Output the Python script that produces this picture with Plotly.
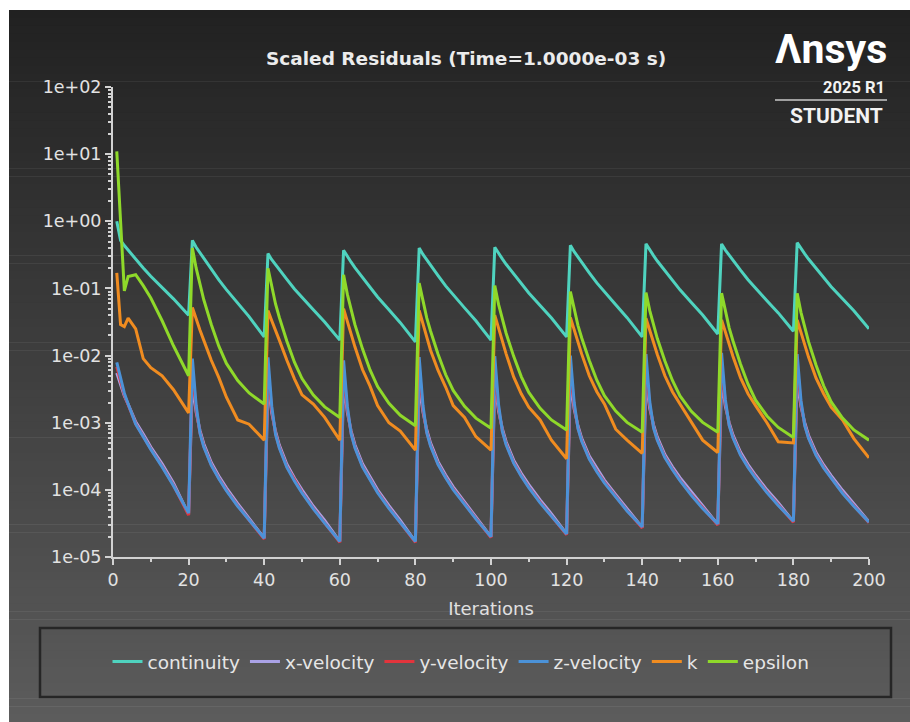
import plotly.graph_objects as go

# Iteration numbers at which residuals are plotted (10 time steps x 20 iterations)
ITERATIONS = [
    1, 2, 3, 4, 6, 8, 10, 13, 16, 20,
    21, 22, 23, 24, 26, 28, 30, 33, 36, 40,
    41, 42, 43, 44, 46, 48, 50, 53, 56, 60,
    61, 62, 63, 64, 66, 68, 70, 73, 76, 80,
    81, 82, 83, 84, 86, 88, 90, 93, 96, 100,
    101, 102, 103, 104, 106, 108, 110, 113, 116, 120,
    121, 122, 123, 124, 126, 128, 130, 133, 136, 140,
    141, 142, 143, 144, 146, 148, 150, 153, 156, 160,
    161, 162, 163, 164, 166, 168, 170, 173, 176, 180,
    181, 182, 183, 184, 186, 188, 190, 193, 196, 200,
]

CONTINUITY = [
    1.0, 0.52, 0.435, 0.372, 0.274, 0.201, 0.152, 0.103, 0.070, 0.040,
    0.52, 0.41, 0.34, 0.277, 0.193, 0.134, 0.096, 0.0605, 0.038, 0.019,
    0.33, 0.268, 0.224, 0.188, 0.136, 0.098, 0.073, 0.048, 0.0317, 0.017,
    0.37, 0.297, 0.246, 0.204, 0.144, 0.102, 0.0745, 0.048, 0.0309, 0.016,
    0.40, 0.321, 0.265, 0.219, 0.155, 0.109, 0.080, 0.0513, 0.033, 0.017,
    0.41, 0.331, 0.275, 0.229, 0.163, 0.116, 0.0857, 0.0557, 0.0362, 0.019,
    0.44, 0.353, 0.292, 0.242, 0.171, 0.121, 0.0885, 0.057, 0.0367, 0.019,
    0.46, 0.371, 0.308, 0.256, 0.182, 0.130, 0.0953, 0.0618, 0.0402, 0.021,
    0.46, 0.373, 0.312, 0.261, 0.187, 0.135, 0.0998, 0.0656, 0.0432, 0.023,
    0.48, 0.390, 0.327, 0.274, 0.198, 0.143, 0.106, 0.0703, 0.0465, 0.025,
]

X_VELOCITY = [
    5.5e-3, 3.6e-3, 2.5e-3, 1.9e-3, 1.03e-3, 6.8e-4, 4.35e-4, 2.45e-4, 1.27e-4, 4.3e-5,
    4.0e-3, 1.43e-3, 7.7e-4, 4.9e-4, 2.55e-4, 1.61e-4, 1.07e-4, 6.25e-5, 3.8e-5, 1.9e-5,
    4.0e-3, 1.40e-3, 7.4e-4, 4.65e-4, 2.4e-4, 1.5e-4, 1.0e-4, 5.7e-5, 3.5e-5, 1.7e-5,
    4.1e-3, 1.42e-3, 7.5e-4, 4.7e-4, 2.44e-4, 1.53e-4, 1.0e-4, 5.8e-5, 3.5e-5, 1.7e-5,
    4.0e-3, 1.45e-3, 7.85e-4, 5.0e-4, 2.63e-4, 1.66e-4, 1.11e-4, 6.6e-5, 4.0e-5, 2.0e-5,
    4.0e-3, 1.48e-3, 8.15e-4, 5.2e-4, 2.77e-4, 1.77e-4, 1.2e-4, 7.1e-5, 4.4e-5, 2.2e-5,
    4.2e-3, 1.6e-3, 9.0e-4, 5.85e-4, 3.18e-4, 2.06e-4, 1.4e-4, 8.5e-5, 5.3e-5, 2.75e-5,
    4.2e-3, 1.63e-3, 9.3e-4, 6.1e-4, 3.35e-4, 2.2e-4, 1.52e-4, 9.2e-5, 5.8e-5, 3.05e-5,
    4.5e-3, 1.76e-3, 1.0e-3, 6.6e-4, 3.65e-4, 2.38e-4, 1.65e-4, 1.0e-4, 6.45e-5, 3.35e-5,
    4.5e-3, 1.75e-3, 1.0e-3, 6.5e-4, 3.6e-4, 2.35e-4, 1.63e-4, 9.85e-5, 6.25e-5, 3.35e-5,
]

Y_VELOCITY = [
    6.8e-3, 4.0e-3, 2.6e-3, 1.85e-3, 9.6e-4, 6.3e-4, 4.05e-4, 2.25e-4, 1.17e-4, 4.2e-5,
    6.5e-3, 1.6e-3, 7.1e-4, 4.5e-4, 2.36e-4, 1.49e-4, 9.9e-5, 5.8e-5, 3.55e-5, 1.85e-5,
    6.6e-3, 1.55e-3, 6.85e-4, 4.3e-4, 2.2e-4, 1.39e-4, 9.2e-5, 5.3e-5, 3.25e-5, 1.65e-5,
    6.3e-3, 1.6e-3, 6.95e-4, 4.35e-4, 2.25e-4, 1.41e-4, 9.3e-5, 5.4e-5, 3.25e-5, 1.65e-5,
    6.6e-3, 1.6e-3, 7.25e-4, 4.6e-4, 2.43e-4, 1.54e-4, 1.03e-4, 6.1e-5, 3.75e-5, 1.95e-5,
    6.8e-3, 1.65e-3, 7.55e-4, 4.8e-4, 2.55e-4, 1.63e-4, 1.1e-4, 6.55e-5, 4.1e-5, 2.15e-5,
    7.0e-3, 1.8e-3, 8.35e-4, 5.4e-4, 2.94e-4, 1.9e-4, 1.3e-4, 7.85e-5, 4.9e-5, 2.7e-5,
    7.2e-3, 1.85e-3, 8.6e-4, 5.6e-4, 3.1e-4, 2.03e-4, 1.4e-4, 8.5e-5, 5.4e-5, 3.0e-5,
    7.5e-3, 2.0e-3, 9.3e-4, 6.1e-4, 3.37e-4, 2.2e-4, 1.53e-4, 9.3e-5, 6.0e-5, 3.3e-5,
    7.3e-3, 1.95e-3, 9.2e-4, 6.0e-4, 3.33e-4, 2.18e-4, 1.51e-4, 9.1e-5, 5.8e-5, 3.25e-5,
]

Z_VELOCITY = [
    7.9e-3, 4.4e-3, 2.75e-3, 1.9e-3, 9.5e-4, 6.2e-4, 4.0e-4, 2.2e-4, 1.15e-4, 4.5e-5,
    9.0e-3, 1.8e-3, 7.0e-4, 4.4e-4, 2.32e-4, 1.46e-4, 9.7e-5, 5.7e-5, 3.5e-5, 1.9e-5,
    9.4e-3, 1.75e-3, 6.7e-4, 4.2e-4, 2.17e-4, 1.36e-4, 9.0e-5, 5.2e-5, 3.2e-5, 1.7e-5,
    8.5e-3, 1.75e-3, 6.8e-4, 4.25e-4, 2.2e-4, 1.38e-4, 9.1e-5, 5.3e-5, 3.2e-5, 1.7e-5,
    9.5e-3, 1.8e-3, 7.1e-4, 4.5e-4, 2.38e-4, 1.51e-4, 1.01e-4, 6.0e-5, 3.7e-5, 2.0e-5,
    9.8e-3, 1.85e-3, 7.4e-4, 4.7e-4, 2.5e-4, 1.6e-4, 1.08e-4, 6.4e-5, 4.0e-5, 2.2e-5,
    1.0e-2, 2.0e-3, 8.2e-4, 5.3e-4, 2.88e-4, 1.86e-4, 1.27e-4, 7.7e-5, 4.85e-5, 2.8e-5,
    1.05e-2, 2.05e-3, 8.4e-4, 5.5e-4, 3.03e-4, 1.99e-4, 1.37e-4, 8.3e-5, 5.3e-5, 3.1e-5,
    1.1e-2, 2.2e-3, 9.1e-4, 5.95e-4, 3.3e-4, 2.16e-4, 1.5e-4, 9.1e-5, 5.85e-5, 3.4e-5,
    1.05e-2, 2.15e-3, 9.0e-4, 5.85e-4, 3.26e-4, 2.13e-4, 1.48e-4, 8.9e-5, 5.7e-5, 3.3e-5,
]

K = [
    0.17, 0.029, 0.027, 0.036, 0.025, 0.0090, 0.0066, 0.0050, 0.0031, 0.0014,
    0.052, 0.034, 0.024, 0.017, 0.0085, 0.0047, 0.0024, 0.0011, 0.00095, 0.00055,
    0.047, 0.033, 0.024, 0.017, 0.0085, 0.0045, 0.0026, 0.0019, 0.0012, 0.00055,
    0.050, 0.0323, 0.0209, 0.0135, 0.0062, 0.0035, 0.0018, 0.0010, 0.00075, 0.00039,
    0.047, 0.030, 0.019, 0.012, 0.0060, 0.0034, 0.0018, 0.0012, 0.00062, 0.00039,
    0.040, 0.0256, 0.0165, 0.0106, 0.0048, 0.0027, 0.0017, 0.0011, 0.00055, 0.00029,
    0.037, 0.0243, 0.0160, 0.0105, 0.0050, 0.0029, 0.0019, 0.0008, 0.00055, 0.00035,
    0.036, 0.0238, 0.0157, 0.0104, 0.0050, 0.0029, 0.0019, 0.0010, 0.00055, 0.00036,
    0.034, 0.0225, 0.0148, 0.0098, 0.0047, 0.0027, 0.0018, 0.0010, 0.00052, 0.00050,
    0.034, 0.022, 0.0145, 0.0095, 0.0046, 0.0027, 0.0017, 0.0011, 0.00058, 0.00030,
]

EPSILON = [
    11.0, 1.0, 0.092, 0.15, 0.16, 0.11, 0.072, 0.033, 0.014, 0.005,
    0.40, 0.200, 0.111, 0.0684, 0.0291, 0.0138, 0.00764, 0.00424, 0.00277, 0.0019,
    0.20, 0.103, 0.0586, 0.0370, 0.0163, 0.00796, 0.00454, 0.00258, 0.00172, 0.0012,
    0.16, 0.0815, 0.0461, 0.0289, 0.0126, 0.00611, 0.00346, 0.00195, 0.00129, 0.0009,
    0.12, 0.0628, 0.0364, 0.0232, 0.0105, 0.00522, 0.00303, 0.00175, 0.00117, 0.00083,
    0.11, 0.0578, 0.0335, 0.0215, 0.00973, 0.00486, 0.00282, 0.00164, 0.00110, 0.00078,
    0.090, 0.0480, 0.0282, 0.0183, 0.00843, 0.00430, 0.00252, 0.00149, 0.00101, 0.00072,
    0.087, 0.0467, 0.0275, 0.0179, 0.00830, 0.00425, 0.00251, 0.00148, 0.00101, 0.00072,
    0.085, 0.0446, 0.0259, 0.0166, 0.00750, 0.00375, 0.00217, 0.00126, 0.00085, 0.00060,
    0.085, 0.0441, 0.0254, 0.0161, 0.00718, 0.00355, 0.00204, 0.00117, 0.00078, 0.00055,
]

SERIES = [
    ("continuity", CONTINUITY, "#4fd3bf"),
    ("x-velocity", X_VELOCITY, "#aaa2e6"),
    ("y-velocity", Y_VELOCITY, "#e3343c"),
    ("z-velocity", Z_VELOCITY, "#4b92d8"),
    ("k", K, "#f08c20"),
    ("epsilon", EPSILON, "#8fd92a"),
]

Y_TICK_VALUES = [1e-5, 1e-4, 1e-3, 1e-2, 1e-1, 1e0, 1e1, 1e2]
Y_TICK_LABELS = ["1e-05", "1e-04", "1e-03", "1e-02", "1e-01", "1e+00", "1e+01", "1e+02"]
X_TICK_VALUES = [0, 20, 40, 60, 80, 100, 120, 140, 160, 180, 200]

W, H = 910, 722
L, R, T, B = 113, 41, 87, 165
PW, PH = W - L - R, H - T - B


def px(x):
    return (x - L) / PW


def py(y):
    return (H - B - y) / PH


fig = go.Figure()
for name, values, color in SERIES:
    fig.add_trace(go.Scatter(
        x=ITERATIONS, y=values, name=name, mode="lines",
        line=dict(color=color, width=3),
    ))

# Dark-to-grey vertical gradient panel behind everything
shapes = []
top, bottom, left = 10, H, 9
n_bands = 90
band_h = (bottom - top) / n_bands
for i in range(n_bands):
    frac = (i + 0.5) / n_bands
    g = int(round(33 + (92 - 33) * frac))
    y0 = top + i * band_h
    shapes.append(dict(
        type="rect", xref="paper", yref="paper", layer="below",
        x0=px(left), x1=px(W + 2), y0=py(y0 + band_h + 0.6), y1=py(y0),
        fillcolor=f"rgb({g},{g},{g})", line=dict(width=0),
    ))

# Legend frame
shapes.append(dict(
    type="rect", xref="paper", yref="paper", layer="below",
    x0=px(40), x1=px(891), y0=py(697), y1=py(628),
    fillcolor="rgba(0,0,0,0)", line=dict(color="#262626", width=2.5),
))
# Rule between release and edition in the logo block
shapes.append(dict(
    type="line", xref="paper", yref="paper",
    x0=px(775), x1=px(887), y0=py(100), y1=py(100),
    line=dict(color="#c8c8c8", width=1.6),
))

annotations = [
    dict(text="<b>Scaled Residuals (Time=1.0000e-03 s)</b>", x=px(466), y=py(58),
         xref="paper", yref="paper", showarrow=False, xanchor="center", yanchor="middle",
         font=dict(family="DejaVu Sans", size=18.5, color="#ececec")),
    dict(text="<b>Λnsys</b>", x=px(889), y=py(49), xref="paper", yref="paper",
         showarrow=False, xanchor="right", yanchor="middle",
         font=dict(family="Roboto", size=41, color="#ffffff")),
    dict(text="<b>2025 R1</b>", x=px(887), y=py(87), xref="paper", yref="paper",
         showarrow=False, xanchor="right", yanchor="middle",
         font=dict(family="Roboto", size=16.5, color="#f2f2f2")),
    dict(text="<b>STUDENT</b>", x=px(885), y=py(116), xref="paper", yref="paper",
         showarrow=False, xanchor="right", yanchor="middle",
         font=dict(family="Roboto", size=21, color="#f2f2f2")),
]

axis_color = "#d2d2d2"
tick_font = dict(family="DejaVu Sans", size=17.5, color="#e2e2e2")

fig.update_layout(
    width=W, height=H,
    margin=dict(l=L, r=R, t=T, b=B, pad=0),
    paper_bgcolor="#ffffff",
    plot_bgcolor="rgba(0,0,0,0)",
    shapes=shapes,
    annotations=annotations,
    showlegend=True,
    legend=dict(
        orientation="h", x=px(461), y=py(662), xanchor="center", yanchor="middle",
        bgcolor="rgba(0,0,0,0)", borderwidth=0,
        font=dict(family="DejaVu Sans", size=18.5, color="#e6e6e6"),
        itemwidth=30, tracegroupgap=0,
    ),
    xaxis=dict(
        range=[0, 200], tickmode="array", tickvals=X_TICK_VALUES,
        ticks="outside", ticklen=6, tickwidth=2, tickcolor=axis_color,
        showline=True, linecolor=axis_color, linewidth=2,
        showgrid=False, zeroline=False, tickfont=tick_font,
        minor=dict(ticks="outside", dtick=10, ticklen=3, tickwidth=2, tickcolor=axis_color),
        title=dict(text="Iterations", standoff=13,
                   font=dict(family="DejaVu Sans", size=18, color="#e0e0e0")),
    ),
    yaxis=dict(
        type="log", range=[-5, 2], tickmode="array",
        tickvals=Y_TICK_VALUES, ticktext=Y_TICK_LABELS,
        ticks="outside", ticklen=6, tickwidth=2, tickcolor=axis_color,
        showline=True, linecolor=axis_color, linewidth=2,
        showgrid=False, zeroline=False, tickfont=tick_font,
        minor=dict(ticks="outside", ticklen=3, tickwidth=2, tickcolor=axis_color,
                   tickvals=[m * 10.0 ** e for e in range(-5, 2) for m in range(2, 10)]),
    ),
)

fig.write_html("out.html")
